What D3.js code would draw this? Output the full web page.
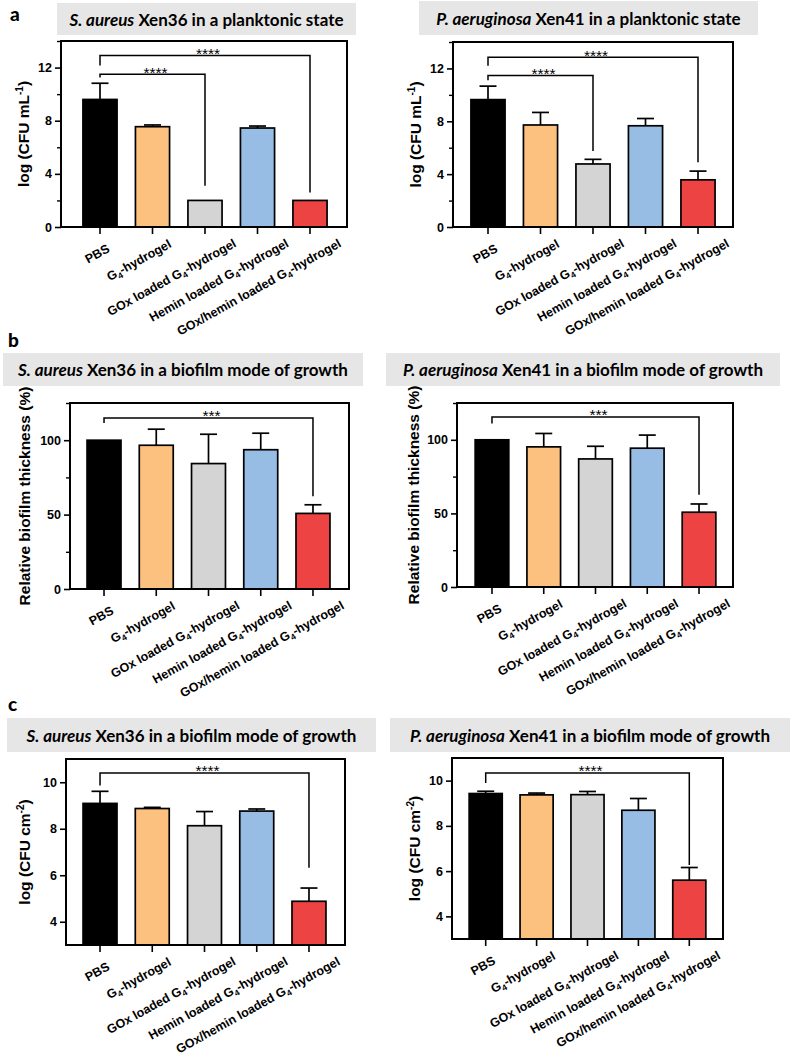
<!DOCTYPE html>
<html>
<head>
<meta charset="utf-8">
<script src="https://cdn.jsdelivr.net/npm/d3@7/dist/d3.min.js"></script>
<style>
  body { margin: 0; background: #fff; }
  text { font-family: "Liberation Sans", Arial, sans-serif; }
</style>
</head>
<body>
<div class="chart"></div>
<script>
// groups and colours
var groups = ["PBS", "G4-hydrogel", "GOx loaded G4-hydrogel", "Hemin loaded G4-hydrogel", "GOx/hemin loaded G4-hydrogel"];
var barColors = ["#000000", "#fcc07f", "#d4d4d4", "#97bde5", "#ee4343"];

// a: planktonic, log(CFU/mL)
var saPlankMean = [9.6, 7.55, 2.0, 7.45, 2.0];
var saPlankSD   = [1.22, 0.13, 0, 0.15, 0];
var paPlankMean = [9.64, 7.72, 4.77, 7.66, 3.57];
var paPlankSD   = [1.02, 0.95, 0.35, 0.55, 0.66];
// b: relative biofilm thickness (%)
var saThickMean = [100, 96.6, 84.3, 93.6, 50.8];
var saThickSD   = [0, 10.8, 19.7, 11.1, 5.8];
var paThickMean = [100, 95.2, 87.0, 94.3, 50.8];
var paThickSD   = [0, 9.1, 8.6, 8.9, 5.6];
// c: biofilm, log(CFU/cm2)
var saBiofMean = [9.09, 8.87, 8.13, 8.76, 4.88];
var saBiofSD   = [0.52, 0.05, 0.61, 0.09, 0.57];
var paBiofMean = [9.43, 9.37, 9.38, 8.69, 5.60];
var paBiofSD   = [0.10, 0.08, 0.14, 0.52, 0.56];

// significance brackets: [from, to, bracket y, left leg end, right leg end, label]
var saPlankSig = [[0, 4, 12.9, 12.15, 2.6, "****"], [0, 2, 11.5, 11.25, 3.1, "****"]];
var paPlankSig = [[0, 4, 12.85, 12.2, 4.9, "****"], [0, 2, 11.47, 11.1, 5.76, "****"]];
var saThickSig = [[0, 4, 115, 111.5, 62.4, "***"]];
var paThickSig = [[0, 4, 115.5, 111, 62.7, "***"]];
var saBiofSig  = [[0, 4, 10.4, 9.86, 6.32, "****"]];
var paBiofSig  = [[0, 4, 10.34, 9.9, 6.27, "****"]];

// axis ticks
var planTicks = [0, 4, 8, 12], planMinor = [2, 6, 10, 14];
var thickTicks = [0, 50, 100], thickMinor = [25, 75, 125];
var biofTicks = [4, 6, 8, 10];

var svg = d3.select(".chart").append("svg")
  .attr("width", 798)
  .attr("height", 1059);

var panels = [
  {sp: "S. aureus", rest: " Xen36 in a planktonic state", banner: [57, 3, 299, 32],
   frame: [61, 347, 41, 227], band: [73.75, 336.25], domain: [0, 14], ticks: planTicks, minor: planMinor,
   ylab: "mL", sup: "-1", ylabX: 29, mean: saPlankMean, sd: saPlankSD, sig: saPlankSig},
  {sp: "P. aeruginosa", rest: " Xen41 in a planktonic state", banner: [419, 1, 339, 34],
   frame: [453, 733, 42, 227], band: [461.75, 724.25], domain: [0, 14], ticks: planTicks, minor: planMinor,
   ylab: "mL", sup: "-1", ylabX: 421, mean: paPlankMean, sd: paPlankSD, sig: paPlankSig},
  {sp: "S. aureus", rest: " Xen36 in a biofilm mode of growth", banner: [3, 353, 360, 33],
   frame: [70, 349, 403, 589], band: [77.9, 339.1], domain: [0, 125], ticks: thickTicks, minor: thickMinor,
   ylab: null, ylabX: 30, mean: saThickMean, sd: saThickSD, sig: saThickSig},
  {sp: "P. aeruginosa", rest: " Xen41 in a biofilm mode of growth", banner: [386, 353, 394, 33],
   frame: [457, 733, 403, 587], band: [466.1, 724.9], domain: [0, 125], ticks: thickTicks, minor: thickMinor,
   ylab: null, ylabX: 419, mean: paThickMean, sd: paThickSD, sig: paThickSig},
  {sp: "S. aureus", rest: " Xen36 in a biofilm mode of growth", banner: [7, 718, 369, 34],
   frame: [66, 345, 759, 945], band: [73.9, 335.1], domain: [3, 11], ticks: biofTicks, minor: [],
   ylab: "cm", sup: "-2", ylabX: 30, mean: saBiofMean, sd: saBiofSD, sig: saBiofSig},
  {sp: "P. aeruginosa", rest: " Xen41 in a biofilm mode of growth", banner: [390, 718, 400, 34],
   frame: [452, 723, 758, 939], band: [460.25, 714.75], domain: [3, 11], ticks: biofTicks, minor: [],
   ylab: "cm", sup: "-2", ylabX: 420, mean: paBiofMean, sd: paBiofSD, sig: paBiofSig}
];

// panel letters
[["a", 10, 21], ["b", 8, 347], ["c", 8, 711]].forEach(function(l) {
  svg.append("text")
    .attr("x", l[1]).attr("y", l[2])
    .style("font-family", "Lato, sans-serif")
    .style("font-weight", "900")
    .style("font-size", "19px")
    .text(l[0]);
});

panels.forEach(drawPanel);

function drawPanel(p) {
  var g = svg.append("g");
  var fx0 = p.frame[0], fx1 = p.frame[1], fy0 = p.frame[2], fy1 = p.frame[3];

  // title banner
  g.append("rect")
    .attr("x", p.banner[0]).attr("y", p.banner[1])
    .attr("width", p.banner[2]).attr("height", p.banner[3])
    .attr("fill", "#e7e6e6");
  var title = g.append("text")
    .attr("x", p.banner[0] + p.banner[2] / 2)
    .attr("y", p.banner[1] + p.banner[3] / 2 + 6.5)
    .attr("text-anchor", "middle")
    .style("font-family", "Lato, sans-serif")
    .style("font-weight", "bold")
    .style("font-size", "17px");
  title.append("tspan").style("font-style", "italic").text(p.sp);
  title.append("tspan").text(p.rest);

  // scales
  var x = d3.scaleBand()
    .domain(d3.range(groups.length))
    .range(p.band)
    .paddingInner(0.35)
    .paddingOuter(0.175);
  var y = d3.scaleLinear()
    .domain(p.domain)
    .range([fy1, fy0]);

  // bars
  g.selectAll(".bar")
    .data(p.mean)
    .enter()
    .append("rect")
    .attr("x", (d, i) => x(i))
    .attr("y", d => y(d))
    .attr("width", x.bandwidth())
    .attr("height", d => y(p.domain[0]) - y(d))
    .attr("fill", (d, i) => barColors[i])
    .attr("stroke", "#000")
    .attr("stroke-width", 1.7);

  // error bars (upper only)
  p.mean.forEach(function(m, i) {
    if (!p.sd[i]) return;
    var cx = x(i) + x.bandwidth() / 2;
    g.append("line")
      .attr("x1", cx).attr("x2", cx)
      .attr("y1", y(m)).attr("y2", y(m + p.sd[i]))
      .attr("stroke", "#000").attr("stroke-width", 1.7);
    g.append("line")
      .attr("x1", cx - 8.5).attr("x2", cx + 8.5)
      .attr("y1", y(m + p.sd[i])).attr("y2", y(m + p.sd[i]))
      .attr("stroke", "#000").attr("stroke-width", 1.7);
  });

  // significance brackets
  p.sig.forEach(function(s) {
    var x1 = x(s[0]) + x.bandwidth() / 2;
    var x2 = x(s[1]) + x.bandwidth() / 2;
    g.append("path")
      .attr("d", `M${x1},${y(s[3])}V${y(s[2])}H${x2}V${y(s[4])}`)
      .attr("fill", "none")
      .attr("stroke", "#000")
      .attr("stroke-width", 1.5);
    g.append("text")
      .attr("x", (x1 + x2) / 2 + 3)
      .attr("y", y(s[2]) + 3.5)
      .attr("text-anchor", "middle")
      .style("font-size", "15.5px")
      .text(s[5]);
  });

  // y axis
  var yAxis = g.append("g")
    .attr("transform", `translate(${fx0},0)`)
    .call(d3.axisLeft(y).tickValues(p.ticks).tickSize(6).tickPadding(3).tickFormat(d3.format("d")));
  yAxis.select(".domain").remove();
  yAxis.selectAll("line").attr("stroke-width", 1.6);
  yAxis.selectAll("text")
    .style("font-family", "'Liberation Sans', Arial, sans-serif")
    .style("font-weight", "bold")
    .style("font-size", "12.5px")
    .attr("fill", "#000");
  if (p.minor.length) {
    var minorAxis = g.append("g")
      .attr("transform", `translate(${fx0},0)`)
      .call(d3.axisLeft(y).tickValues(p.minor).tickSize(4).tickFormat(""));
    minorAxis.select(".domain").remove();
    minorAxis.selectAll("line").attr("stroke-width", 1.4);
  }

  // x ticks
  var xAxis = g.append("g")
    .attr("transform", `translate(0,${fy1})`)
    .call(d3.axisBottom(x).tickSize(7).tickFormat(""));
  xAxis.select(".domain").remove();
  xAxis.selectAll("line").attr("stroke-width", 1.6);

  // x labels, rotated, with subscript 4
  groups.forEach(function(name, i) {
    var t = g.append("text")
      .attr("text-anchor", "end")
      .style("font-weight", "bold")
      .style("font-size", "12.5px");
    var parts = name.split("G4");
    parts.forEach(function(part, k) {
      if (k > 0) {
        t.append("tspan").attr("dy", 3).style("font-size", "8.5px").text("4");
        t.append("tspan").attr("dy", -3).text(part);
      } else {
        t.append("tspan").text(part + (parts.length > 1 ? "G" : ""));
      }
    });
    var L = t.node().getComputedTextLength();
    var dx = Math.min(32, 11 + 0.2 * (L - 28));
    var dy = 24 - Math.min(5, (L - 28) / 10);
    var cx = x(i) + x.bandwidth() / 2;
    t.attr("transform", `translate(${cx + dx},${fy1 + dy}) rotate(-29)`);
  });

  // y axis title
  var yt = g.append("text")
    .attr("transform", `translate(${p.ylabX},${(fy0 + fy1) / 2}) rotate(-90)`)
    .attr("text-anchor", "middle")
    .style("font-weight", "bold")
    .style("font-size", "15.5px");
  if (p.ylab) {
    yt.append("tspan").text("log (CFU " + p.ylab);
    yt.append("tspan").attr("dy", -6).style("font-size", "10px").text(p.sup);
    yt.append("tspan").attr("dy", 6).text(")");
  } else {
    yt.text("Relative biofilm thickness (%)");
  }

  // frame
  g.append("rect")
    .attr("x", fx0).attr("y", fy0)
    .attr("width", fx1 - fx0).attr("height", fy1 - fy0)
    .attr("fill", "none")
    .attr("stroke", "#000")
    .attr("stroke-width", 2);
}
</script>
</body>
</html>
